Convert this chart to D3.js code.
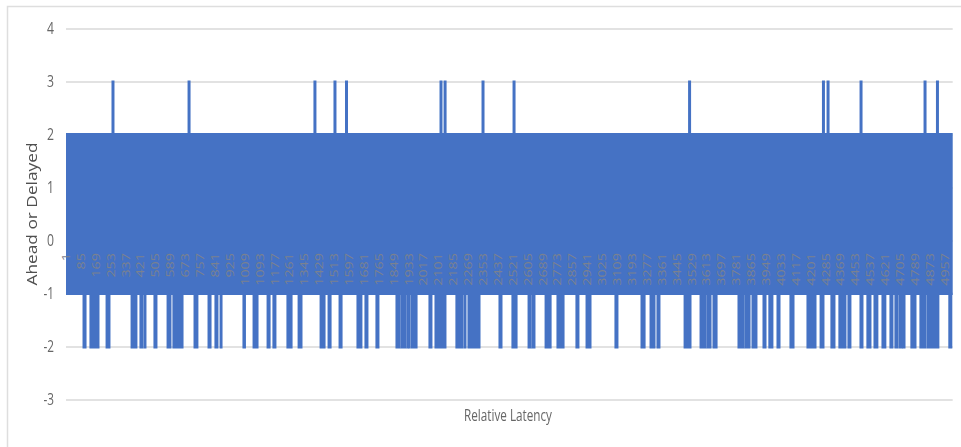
<!DOCTYPE html>
<html>
<head>
<meta charset="utf-8">
<style>
html,body{margin:0;padding:0;background:#fff;}
svg{display:block;}
text{font-family:"Open Sans","Noto Sans",sans-serif;}
</style>
<script src="https://cdnjs.cloudflare.com/ajax/libs/d3/7.8.5/d3.min.js"></script>
</head>
<body>
<svg id="c" width="961" height="447"></svg>
<script>
const yTicks = [4,3,2,1,0,-1,-2,-3];
const xLabels = [1,85,169,253,337,421,505,589,673,757,841,925,1009,1093,1177,1261,1345,1429,1513,1597,1681,1765,1849,1933,2017,2101,2185,2269,2353,2437,2521,2605,2689,2773,2857,2941,3025,3109,3193,3277,3361,3445,3529,3613,3697,3781,3865,3949,4033,4117,4201,4285,4369,4453,4537,4621,4705,4789,4873,4957];
const sampleCount = 5002;
const bandHigh = 2;
const bandLow = -1;
const peakValue = 3;
const dipValue = -2;
const peakSamples = [266,695,1405,1518,1583,2116,2139,2353,2528,3518,4273,4299,4485,4846,4916];
const dipStarts = [97,136,227,368,418,441,497,571,604,723,802,841,870,999,1056,1135,1168,1247,1310,1434,1479,1541,1642,1687,1749,1862,1890,1924,1933,1947,2048,2082,2200,2246,2268,2443,2516,2607,2629,2703,2770,2877,2934,3097,3244,3295,3334,3487,3577,3616,3650,3791,3830,3870,3932,3965,4011,4084,4180,4254,4315,4360,4411,4479,4518,4558,4603,4648,4676,4699,4719,4766,4817,4857,4980];
const dipEnds   = [114,187,249,401,435,452,514,593,661,745,819,858,881,1013,1084,1152,1185,1276,1332,1462,1496,1558,1670,1704,1766,1885,1919,1930,1941,1981,2065,2144,2240,2257,2336,2460,2545,2624,2646,2737,2810,2894,2962,3114,3267,3323,3351,3526,3611,3639,3673,3825,3859,3898,3949,3988,4028,4107,4231,4276,4338,4400,4428,4496,4541,4580,4625,4665,4693,4716,4733,4795,4851,4924,4997];
const yTitle = "Ahead or Delayed";
const xTitle = "Relative Latency";

const svg = d3.select("#c");
const defs = svg.append("defs");
defs.append("filter").attr("id","soft").attr("x","-2%").attr("y","-2%").attr("width","104%").attr("height","104%")
  .append("feGaussianBlur").attr("stdDeviation",0.4);
const root = svg.append("g").attr("filter","url(#soft)");

const x = d3.scaleLinear().domain([1,sampleCount]).range([66,952.7]);
const y = d3.scaleLinear().domain([-3,4]).range([399.5,28.5]);
const blue = "#4472C4", grid = "#d9d9d9", ink = "#666666";

// chart frame
root.append("path").attr("d","M7.5,447V6.5H961").attr("fill","none").attr("stroke","#dedede").attr("stroke-width",1.5);

// gridlines + y axis labels
const yAxis = d3.axisLeft(y).tickValues(yTicks).tickSize(-(x.range()[1]-x.range()[0])).tickPadding(12).tickFormat(d=>String(d));
const yG = root.append("g").attr("transform",`translate(${x.range()[0]},0)`).call(yAxis);
yG.select(".domain").remove();
yG.selectAll(".tick line").attr("stroke",grid).attr("stroke-width",1.4);
yG.selectAll(".tick text").attr("fill",ink).attr("font-size",16).attr("font-family","'Open Sans',sans-serif")
  .attr("textLength",d=>d<0?10.5:7).attr("lengthAdjust","spacingAndGlyphs");

// peaks
root.append("g").selectAll("line").data(peakSamples).join("line")
  .attr("x1",d=>x(d)).attr("x2",d=>x(d))
  .attr("y1",y(bandHigh)).attr("y2",y(peakValue)-1)
  .attr("stroke",blue).attr("stroke-width",3);

// dips
root.append("g").selectAll("rect").data(d3.zip(dipStarts,dipEnds)).join("rect")
  .attr("x",d=>x(d[0])-0.5).attr("width",d=>Math.max(0.8,x(d[1])-x(d[0])+1))
  .attr("y",y(bandLow)-1).attr("height",y(dipValue)-y(bandLow)+3)
  .attr("fill",blue);

// main oscillation band
root.append("rect")
  .attr("x",x(1)).attr("width",x(sampleCount)-x(1))
  .attr("y",y(bandHigh)-1.5).attr("height",y(bandLow)-y(bandHigh)+3)
  .attr("fill",blue);

// x labels, sitting inside the band (kept out of the blur so they stay legible)
const xAxis = d3.axisBottom(x).tickValues(xLabels).tickSize(0).tickFormat(d=>String(d));
const xG = svg.append("g").attr("transform","translate(0,253)").call(xAxis);
xG.select(".domain").remove();
xG.selectAll(".tick text")
  .attr("fill","#7a8190").attr("font-size",11.5)
  .attr("font-family","'DejaVu Sans',sans-serif")
  .attr("text-anchor","end").attr("dy",0).attr("y",0)
  .attr("textLength",d=>String(d).length*8.2).attr("lengthAdjust","spacingAndGlyphs")
  .attr("transform","rotate(-90) translate(0,3.5)");

// axis titles
root.append("text").attr("transform","translate(37,214) rotate(-90)")
  .attr("text-anchor","middle").attr("fill","#505050").attr("font-size",14)
  .attr("textLength",143).attr("lengthAdjust","spacingAndGlyphs").text(yTitle);
root.append("text").attr("x",508).attr("y",421)
  .attr("text-anchor","middle").attr("fill",ink).attr("font-size",16)
  .attr("textLength",88).attr("lengthAdjust","spacingAndGlyphs").text(xTitle);
</script>
</body>
</html>
